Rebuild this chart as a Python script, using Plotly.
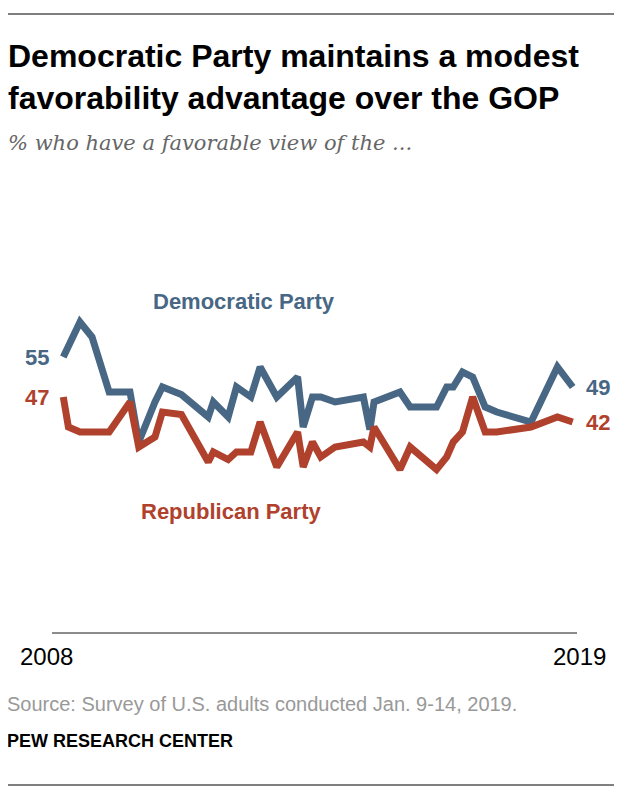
import plotly.graph_objects as go

# Survey dates (decimal years)
dates = [2008.00, 2008.11, 2008.36, 2008.62, 2008.99, 2009.44, 2009.63, 2009.98,
         2010.14, 2010.55, 2011.13, 2011.24, 2011.56, 2011.74, 2012.05, 2012.25,
         2012.61, 2013.06, 2013.18, 2013.38, 2013.56, 2013.87, 2014.48, 2014.62,
         2014.71, 2015.27, 2015.49, 2016.06, 2016.28, 2016.42, 2016.62, 2016.84,
         2017.11, 2017.36, 2018.10, 2018.67, 2019.00]

democratic = [55, 57, 62, 59, 48, 48, 38, 46, 49, 47.5, 43, 46, 43, 49, 47, 53,
              47, 51, 41, 47, 47, 46, 47, 40.5, 46, 48, 45, 45, 49, 49, 52, 51,
              45, 44, 42, 53, 49]

republican = [47, 41, 40, 40, 40, 46, 37, 39, 44, 43.5, 34, 36, 34.5, 36, 36, 42,
              33, 40, 33, 38, 35, 37, 38, 37, 41, 32.5, 37, 32.5, 35, 38, 40, 47,
              40, 40, 41, 43, 42]

series_names = ["Democratic Party", "Republican Party"]
tick_labels = ["2008", "2019"]

BLUE = "#476784"
RED = "#b0412d"
SANS = "Liberation Sans, Arial, sans-serif"

fig = go.Figure()
fig.add_trace(go.Scatter(x=dates, y=democratic, mode="lines", name=series_names[0],
                         line=dict(color=BLUE, width=7), hoverinfo="skip"))
fig.add_trace(go.Scatter(x=dates, y=republican, mode="lines", name=series_names[1],
                         line=dict(color=RED, width=7), hoverinfo="skip"))

annotations = []
# Title
annotations.append(dict(
    text="<b>Democratic Party maintains a modest<br>favorability advantage over the GOP</b>",
    xref="paper", yref="paper", x=-0.088, y=1.3875, xanchor="left", yanchor="middle",
    align="left", showarrow=False,
    font=dict(family=SANS, size=32, color="#000000")))
# Subtitle
annotations.append(dict(
    text="<i>% who have a favorable view of the ...</i>",
    xref="paper", yref="paper", x=-0.088, y=1.2225, xanchor="left", yanchor="middle",
    showarrow=False,
    font=dict(family="DejaVu Serif, Georgia, serif", size=21, color="#666666")))
# Series labels
annotations.append(dict(text="<b>" + series_names[0] + "</b>", x=2011.9, y=66.2,
                        xref="x", yref="y", showarrow=False,
                        font=dict(family=SANS, size=22, color=BLUE)))
annotations.append(dict(text="<b>" + series_names[1] + "</b>", x=2011.63, y=24.2,
                        xref="x", yref="y", showarrow=False,
                        font=dict(family=SANS, size=22, color=RED)))
# Start / end values
for xs, ys, col, anchor, shift in [
    (dates[0], democratic[0], BLUE, "right", -12),
    (dates[0], republican[0], RED, "right", -12),
    (dates[-1], democratic[-1], BLUE, "left", 11),
    (dates[-1], republican[-1], RED, "left", 11),
]:
    annotations.append(dict(text="<b>%d</b>" % ys, x=xs, y=ys, xref="x", yref="y",
                            xanchor=anchor, xshift=shift, showarrow=False,
                            font=dict(family=SANS, size=22, color=col)))
# Axis year labels
annotations.append(dict(text=tick_labels[0], xref="paper", yref="paper", x=-0.0114, y=-0.06,
                        showarrow=False, xanchor="center", yanchor="middle",
                        font=dict(family=SANS, size=24, color="#000000")))
annotations.append(dict(text=tick_labels[1], xref="paper", yref="paper", x=1.0057, y=-0.06,
                        showarrow=False, xanchor="center", yanchor="middle",
                        font=dict(family=SANS, size=24, color="#000000")))
# Source and credit
annotations.append(dict(text="Source: Survey of U.S. adults conducted Jan. 9-14, 2019.",
                        xref="paper", yref="paper", x=-0.0895, y=-0.18, xanchor="left",
                        yanchor="middle", showarrow=False,
                        font=dict(family=SANS, size=20, color="#999999")))
annotations.append(dict(text="<b>PEW RESEARCH CENTER</b>",
                        xref="paper", yref="paper", x=-0.0895, y=-0.2725, xanchor="left",
                        yanchor="middle", showarrow=False,
                        font=dict(family=SANS, size=18, color="#000000")))

shapes = [
    dict(type="line", xref="paper", yref="paper", x0=-0.0895, x1=1.09, y0=1.545, y1=1.545,
         line=dict(color="#000000", width=1)),
    dict(type="line", xref="paper", yref="paper", x0=-0.0895, x1=1.09, y0=-0.3825, y1=-0.3825,
         line=dict(color="#000000", width=1)),
]

fig.update_layout(
    width=622, height=800,
    margin=dict(l=44, r=53, t=224, b=176, pad=0),
    paper_bgcolor="white", plot_bgcolor="white",
    showlegend=False,
    xaxis=dict(range=[2007.756, 2019.093], showgrid=False, zeroline=False,
               showticklabels=False, ticks="", showline=True, linecolor="#8c8c8c", linewidth=2,
               fixedrange=True),
    yaxis=dict(range=[0, 80], showgrid=False, zeroline=False, showticklabels=False,
               ticks="", showline=False, fixedrange=True),
    annotations=annotations,
    shapes=shapes,
)

fig.write_html("out.html")
